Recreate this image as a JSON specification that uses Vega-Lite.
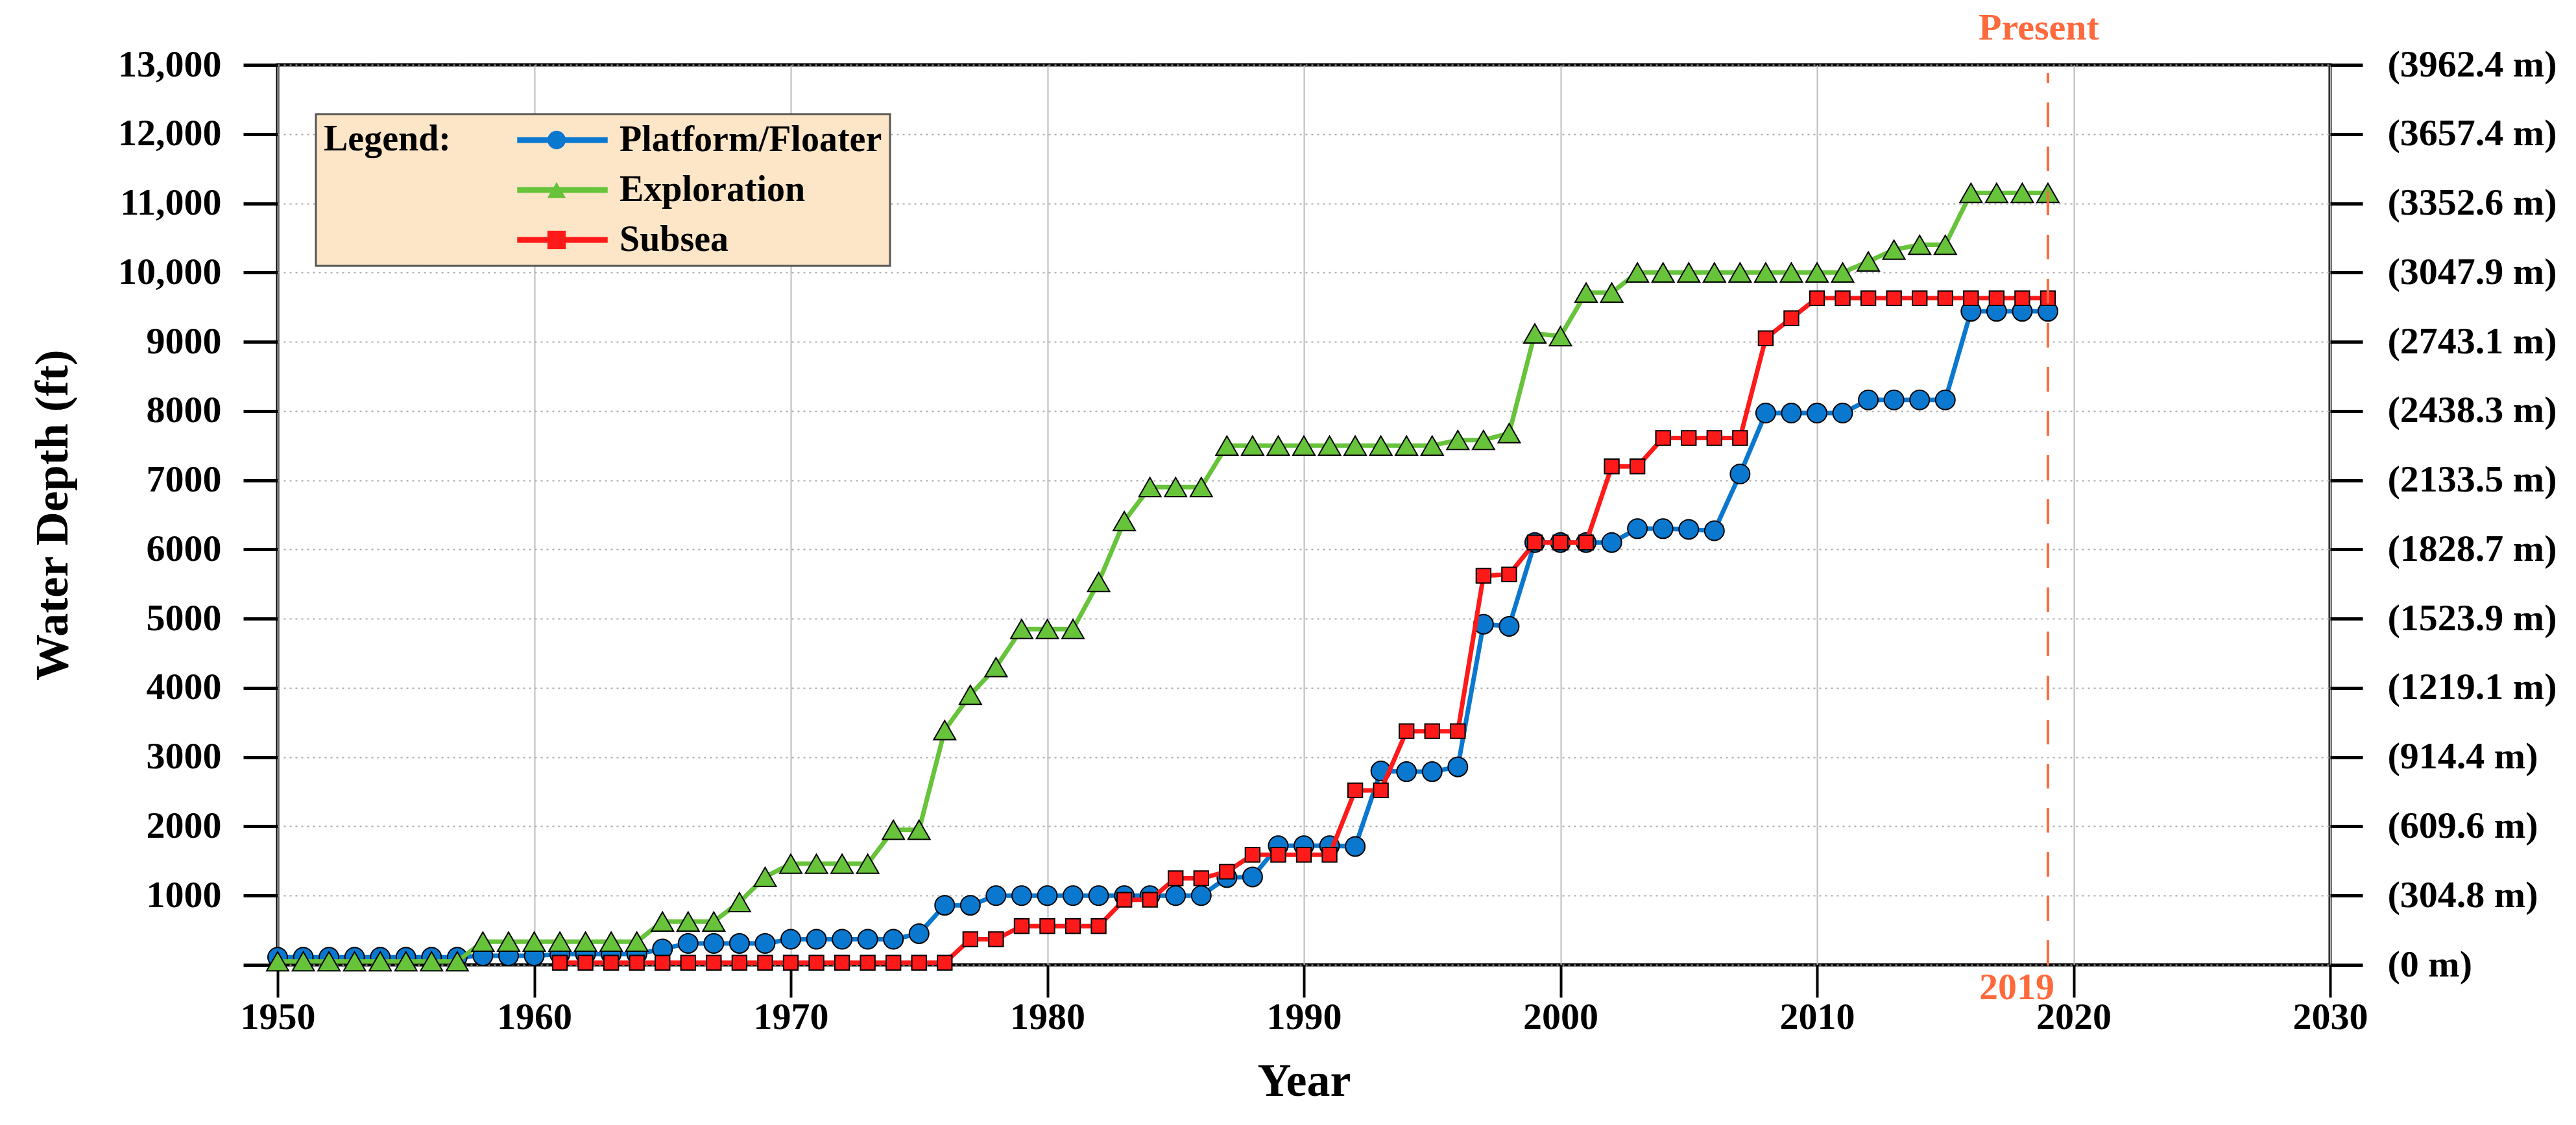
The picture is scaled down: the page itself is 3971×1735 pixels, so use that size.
{
  "$schema": "https://vega.github.io/schema/vega-lite/v6.json",
  "width": 3164,
  "height": 1388,
  "autosize": {"type": "none"},
  "padding": {"left": 428, "top": 100, "right": 379, "bottom": 247},
  "background": "white",
  "config": {
    "font": "Liberation Serif",
    "view": {"stroke": "black", "strokeWidth": 5},
    "axis": {
      "labelFont": "Liberation Serif", "labelFontSize": 58, "labelFontWeight": "bold", "labelColor": "black",
      "titleFont": "Liberation Serif", "titleFontSize": 72, "titleFontWeight": "bold", "titleColor": "black",
      "domain": false, "tickColor": "black", "tickWidth": 5, "tickSize": 52
    }
  },
  "data": {
    "values": [
      {"year":1950,"series":"Platform/Floater","depth":110},{"year":1951,"series":"Platform/Floater","depth":110},{"year":1952,"series":"Platform/Floater","depth":110},{"year":1953,"series":"Platform/Floater","depth":110},{"year":1954,"series":"Platform/Floater","depth":110},{"year":1955,"series":"Platform/Floater","depth":110},{"year":1956,"series":"Platform/Floater","depth":110},{"year":1957,"series":"Platform/Floater","depth":110},{"year":1958,"series":"Platform/Floater","depth":130},{"year":1959,"series":"Platform/Floater","depth":130},{"year":1960,"series":"Platform/Floater","depth":130},{"year":1961,"series":"Platform/Floater","depth":155},{"year":1962,"series":"Platform/Floater","depth":155},{"year":1963,"series":"Platform/Floater","depth":155},{"year":1964,"series":"Platform/Floater","depth":155},{"year":1965,"series":"Platform/Floater","depth":230},{"year":1966,"series":"Platform/Floater","depth":310},{"year":1967,"series":"Platform/Floater","depth":310},{"year":1968,"series":"Platform/Floater","depth":310},{"year":1969,"series":"Platform/Floater","depth":310},{"year":1970,"series":"Platform/Floater","depth":370},{"year":1971,"series":"Platform/Floater","depth":370},{"year":1972,"series":"Platform/Floater","depth":370},{"year":1973,"series":"Platform/Floater","depth":370},{"year":1974,"series":"Platform/Floater","depth":370},{"year":1975,"series":"Platform/Floater","depth":450},{"year":1976,"series":"Platform/Floater","depth":860},{"year":1977,"series":"Platform/Floater","depth":860},{"year":1978,"series":"Platform/Floater","depth":1000},{"year":1979,"series":"Platform/Floater","depth":1000},{"year":1980,"series":"Platform/Floater","depth":1000},{"year":1981,"series":"Platform/Floater","depth":1000},{"year":1982,"series":"Platform/Floater","depth":1000},{"year":1983,"series":"Platform/Floater","depth":1000},{"year":1984,"series":"Platform/Floater","depth":1000},{"year":1985,"series":"Platform/Floater","depth":1000},{"year":1986,"series":"Platform/Floater","depth":1000},{"year":1987,"series":"Platform/Floater","depth":1260},{"year":1988,"series":"Platform/Floater","depth":1270},{"year":1989,"series":"Platform/Floater","depth":1720},{"year":1990,"series":"Platform/Floater","depth":1720},{"year":1991,"series":"Platform/Floater","depth":1720},{"year":1992,"series":"Platform/Floater","depth":1710},{"year":1993,"series":"Platform/Floater","depth":2800},{"year":1994,"series":"Platform/Floater","depth":2790},{"year":1995,"series":"Platform/Floater","depth":2790},{"year":1996,"series":"Platform/Floater","depth":2860},{"year":1997,"series":"Platform/Floater","depth":4920},{"year":1998,"series":"Platform/Floater","depth":4890},{"year":1999,"series":"Platform/Floater","depth":6100},{"year":2000,"series":"Platform/Floater","depth":6100},{"year":2001,"series":"Platform/Floater","depth":6100},{"year":2002,"series":"Platform/Floater","depth":6100},{"year":2003,"series":"Platform/Floater","depth":6300},{"year":2004,"series":"Platform/Floater","depth":6300},{"year":2005,"series":"Platform/Floater","depth":6290},{"year":2006,"series":"Platform/Floater","depth":6270},{"year":2007,"series":"Platform/Floater","depth":7090},{"year":2008,"series":"Platform/Floater","depth":7970},{"year":2009,"series":"Platform/Floater","depth":7970},{"year":2010,"series":"Platform/Floater","depth":7970},{"year":2011,"series":"Platform/Floater","depth":7970},{"year":2012,"series":"Platform/Floater","depth":8160},{"year":2013,"series":"Platform/Floater","depth":8160},{"year":2014,"series":"Platform/Floater","depth":8160},{"year":2015,"series":"Platform/Floater","depth":8160},{"year":2016,"series":"Platform/Floater","depth":9440},{"year":2017,"series":"Platform/Floater","depth":9440},{"year":2018,"series":"Platform/Floater","depth":9440},{"year":2019,"series":"Platform/Floater","depth":9440},
      {"year":1950,"series":"Exploration","depth":50},{"year":1951,"series":"Exploration","depth":50},{"year":1952,"series":"Exploration","depth":50},{"year":1953,"series":"Exploration","depth":50},{"year":1954,"series":"Exploration","depth":50},{"year":1955,"series":"Exploration","depth":50},{"year":1956,"series":"Exploration","depth":50},{"year":1957,"series":"Exploration","depth":50},{"year":1958,"series":"Exploration","depth":335},{"year":1959,"series":"Exploration","depth":335},{"year":1960,"series":"Exploration","depth":335},{"year":1961,"series":"Exploration","depth":335},{"year":1962,"series":"Exploration","depth":335},{"year":1963,"series":"Exploration","depth":335},{"year":1964,"series":"Exploration","depth":335},{"year":1965,"series":"Exploration","depth":625},{"year":1966,"series":"Exploration","depth":625},{"year":1967,"series":"Exploration","depth":625},{"year":1968,"series":"Exploration","depth":905},{"year":1969,"series":"Exploration","depth":1270},{"year":1970,"series":"Exploration","depth":1460},{"year":1971,"series":"Exploration","depth":1460},{"year":1972,"series":"Exploration","depth":1460},{"year":1973,"series":"Exploration","depth":1460},{"year":1974,"series":"Exploration","depth":1950},{"year":1975,"series":"Exploration","depth":1950},{"year":1976,"series":"Exploration","depth":3390},{"year":1977,"series":"Exploration","depth":3900},{"year":1978,"series":"Exploration","depth":4300},{"year":1979,"series":"Exploration","depth":4850},{"year":1980,"series":"Exploration","depth":4850},{"year":1981,"series":"Exploration","depth":4850},{"year":1982,"series":"Exploration","depth":5530},{"year":1983,"series":"Exploration","depth":6410},{"year":1984,"series":"Exploration","depth":6900},{"year":1985,"series":"Exploration","depth":6900},{"year":1986,"series":"Exploration","depth":6900},{"year":1987,"series":"Exploration","depth":7500},{"year":1988,"series":"Exploration","depth":7500},{"year":1989,"series":"Exploration","depth":7500},{"year":1990,"series":"Exploration","depth":7500},{"year":1991,"series":"Exploration","depth":7500},{"year":1992,"series":"Exploration","depth":7500},{"year":1993,"series":"Exploration","depth":7500},{"year":1994,"series":"Exploration","depth":7500},{"year":1995,"series":"Exploration","depth":7500},{"year":1996,"series":"Exploration","depth":7580},{"year":1997,"series":"Exploration","depth":7580},{"year":1998,"series":"Exploration","depth":7680},{"year":1999,"series":"Exploration","depth":9120},{"year":2000,"series":"Exploration","depth":9080},{"year":2001,"series":"Exploration","depth":9710},{"year":2002,"series":"Exploration","depth":9710},{"year":2003,"series":"Exploration","depth":10000},{"year":2004,"series":"Exploration","depth":10000},{"year":2005,"series":"Exploration","depth":10000},{"year":2006,"series":"Exploration","depth":10000},{"year":2007,"series":"Exploration","depth":10000},{"year":2008,"series":"Exploration","depth":10000},{"year":2009,"series":"Exploration","depth":10000},{"year":2010,"series":"Exploration","depth":10000},{"year":2011,"series":"Exploration","depth":10000},{"year":2012,"series":"Exploration","depth":10160},{"year":2013,"series":"Exploration","depth":10330},{"year":2014,"series":"Exploration","depth":10400},{"year":2015,"series":"Exploration","depth":10400},{"year":2016,"series":"Exploration","depth":11150},{"year":2017,"series":"Exploration","depth":11150},{"year":2018,"series":"Exploration","depth":11150},{"year":2019,"series":"Exploration","depth":11150},
      {"year":1961,"series":"Subsea","depth":30},{"year":1962,"series":"Subsea","depth":30},{"year":1963,"series":"Subsea","depth":30},{"year":1964,"series":"Subsea","depth":30},{"year":1965,"series":"Subsea","depth":30},{"year":1966,"series":"Subsea","depth":30},{"year":1967,"series":"Subsea","depth":30},{"year":1968,"series":"Subsea","depth":30},{"year":1969,"series":"Subsea","depth":30},{"year":1970,"series":"Subsea","depth":30},{"year":1971,"series":"Subsea","depth":30},{"year":1972,"series":"Subsea","depth":30},{"year":1973,"series":"Subsea","depth":30},{"year":1974,"series":"Subsea","depth":30},{"year":1975,"series":"Subsea","depth":30},{"year":1976,"series":"Subsea","depth":30},{"year":1977,"series":"Subsea","depth":370},{"year":1978,"series":"Subsea","depth":370},{"year":1979,"series":"Subsea","depth":560},{"year":1980,"series":"Subsea","depth":560},{"year":1981,"series":"Subsea","depth":560},{"year":1982,"series":"Subsea","depth":560},{"year":1983,"series":"Subsea","depth":940},{"year":1984,"series":"Subsea","depth":940},{"year":1985,"series":"Subsea","depth":1250},{"year":1986,"series":"Subsea","depth":1250},{"year":1987,"series":"Subsea","depth":1345},{"year":1988,"series":"Subsea","depth":1590},{"year":1989,"series":"Subsea","depth":1590},{"year":1990,"series":"Subsea","depth":1590},{"year":1991,"series":"Subsea","depth":1590},{"year":1992,"series":"Subsea","depth":2520},{"year":1993,"series":"Subsea","depth":2520},{"year":1994,"series":"Subsea","depth":3375},{"year":1995,"series":"Subsea","depth":3375},{"year":1996,"series":"Subsea","depth":3375},{"year":1997,"series":"Subsea","depth":5620},{"year":1998,"series":"Subsea","depth":5640},{"year":1999,"series":"Subsea","depth":6100},{"year":2000,"series":"Subsea","depth":6100},{"year":2001,"series":"Subsea","depth":6100},{"year":2002,"series":"Subsea","depth":7200},{"year":2003,"series":"Subsea","depth":7200},{"year":2004,"series":"Subsea","depth":7610},{"year":2005,"series":"Subsea","depth":7610},{"year":2006,"series":"Subsea","depth":7610},{"year":2007,"series":"Subsea","depth":7610},{"year":2008,"series":"Subsea","depth":9050},{"year":2009,"series":"Subsea","depth":9340},{"year":2010,"series":"Subsea","depth":9630},{"year":2011,"series":"Subsea","depth":9630},{"year":2012,"series":"Subsea","depth":9630},{"year":2013,"series":"Subsea","depth":9630},{"year":2014,"series":"Subsea","depth":9630},{"year":2015,"series":"Subsea","depth":9630},{"year":2016,"series":"Subsea","depth":9630},{"year":2017,"series":"Subsea","depth":9630},{"year":2018,"series":"Subsea","depth":9630},{"year":2019,"series":"Subsea","depth":9630}
    ]
  },
  "layer": [
    {
      "layer": [
        {
          "transform": [{"filter": "datum.series === 'Platform/Floater'"}],
          "mark": {"type": "line", "strokeWidth": 7},
          "encoding": {
            "x": {"field": "year", "type": "quantitative", "scale": {"domain": [1950, 2030], "nice": false, "zero": false},
              "axis": {"values": [1950,1960,1970,1980,1990,2000,2010,2020,2030], "format": "d", "title": "Year", "grid": true, "gridColor": "#BBBBBB", "gridWidth": 2, "tickSize": 50, "tickWidth": 4, "labelPadding": 2, "titlePadding": 34, "labelFlush": false}},
            "y": {"field": "depth", "type": "quantitative", "scale": {"domain": [0, 13000], "nice": false},
              "axis": {"values": [0,1000,2000,3000,4000,5000,6000,7000,8000,9000,10000,11000,12000,13000], "labelExpr": "datum.value == 0 ? '' : (datum.value >= 10000 ? format(datum.value, ',') : format(datum.value, 'd'))", "title": "Water Depth (ft)", "grid": true, "gridDash": [3, 6], "gridColor": "#AAAAAA", "gridWidth": 2, "tickSize": 53, "tickWidth": 5, "labelPadding": 34, "titlePadding": 110}},
            "stroke": {"field": "series", "type": "nominal",
              "scale": {"domain": ["Platform/Floater", "Exploration", "Subsea"], "range": ["#0B78CF", "#66C33A", "#FF1A1A"]},
              "legend": {"orient": "none", "legendX": 59, "legendY": 76, "title": "Legend:", "titleOrient": "left", "titleAnchor": "start", "titleLimit": 0, "titleFont": "Liberation Serif", "titleFontSize": 56, "titleFontWeight": "bold", "titleColor": "black", "titlePadding": 144, "padding": 12, "fillColor": "#FDE6C8", "strokeColor": "#555555", "symbolType": "M-4.5,0L4.5,0", "symbolSize": 961, "symbolStrokeWidth": 9, "labelFont": "Liberation Serif", "labelFontSize": 56, "labelFontWeight": "bold", "labelColor": "black", "labelOffset": 60, "rowPadding": 21, "labelLimit": 0,
                "encode": {"legend": {"update": {"strokeWidth": {"value": 3}}}}}}
          }
        },
        {
          "transform": [{"filter": "datum.series === 'Platform/Floater'"}],
          "mark": {"type": "point", "filled": true, "size": 900, "stroke": "black", "strokeWidth": 2, "opacity": 1},
          "encoding": {
            "x": {"field": "year", "type": "quantitative"},
            "y": {"field": "depth", "type": "quantitative"},
            "fill": {"field": "series", "type": "nominal",
              "scale": {"domain": ["Exploration", "Platform/Floater", "Subsea"], "range": ["#66C33A", "#0B78CF", "#FF1A1A"]},
              "legend": {"orient": "none", "legendX": 390, "legendY": 76, "title": null, "padding": 12, "values": ["Platform/Floater", "Exploration", "Subsea"], "symbolSize": 800, "symbolStrokeColor": "black", "symbolStrokeWidth": 2, "symbolOpacity": 1, "labelFont": "Liberation Serif", "labelFontSize": 56, "labelFontWeight": "bold", "labelOpacity": 0, "labelExpr": "' '", "labelOffset": 60, "rowPadding": 21, "labelLimit": 0}},
            "shape": {"field": "series", "type": "nominal",
              "scale": {"domain": ["Exploration", "Platform/Floater", "Subsea"], "range": ["triangle-up", "circle", "square"]},
              "legend": {"orient": "none", "legendX": 390, "legendY": 76, "title": null, "padding": 12, "values": ["Platform/Floater", "Exploration", "Subsea"], "symbolSize": 800, "symbolStrokeColor": "black", "symbolStrokeWidth": 2, "symbolOpacity": 1, "labelFont": "Liberation Serif", "labelFontSize": 56, "labelFontWeight": "bold", "labelOpacity": 0, "labelExpr": "' '", "labelOffset": 60, "rowPadding": 21, "labelLimit": 0}}
          }
        },
        {
          "transform": [{"filter": "datum.series === 'Exploration'"}],
          "mark": {"type": "line", "strokeWidth": 7},
          "encoding": {
            "x": {"field": "year", "type": "quantitative"},
            "y": {"field": "depth", "type": "quantitative"},
            "stroke": {"field": "series", "type": "nominal"}
          }
        },
        {
          "transform": [{"filter": "datum.series === 'Exploration'"}],
          "mark": {"type": "point", "filled": true, "size": 1150, "stroke": "black", "strokeWidth": 2, "opacity": 1},
          "encoding": {
            "x": {"field": "year", "type": "quantitative"},
            "y": {"field": "depth", "type": "quantitative"},
            "fill": {"field": "series", "type": "nominal"},
            "shape": {"field": "series", "type": "nominal"}
          }
        },
        {
          "transform": [{"filter": "datum.series === 'Subsea'"}],
          "mark": {"type": "line", "strokeWidth": 7},
          "encoding": {
            "x": {"field": "year", "type": "quantitative"},
            "y": {"field": "depth", "type": "quantitative"},
            "stroke": {"field": "series", "type": "nominal"}
          }
        },
        {
          "transform": [{"filter": "datum.series === 'Subsea'"}],
          "mark": {"type": "point", "filled": true, "size": 500, "stroke": "black", "strokeWidth": 2, "opacity": 1},
          "encoding": {
            "x": {"field": "year", "type": "quantitative"},
            "y": {"field": "depth", "type": "quantitative"},
            "fill": {"field": "series", "type": "nominal"},
            "shape": {"field": "series", "type": "nominal"}
          }
        },
        {
          "data": {"values": [{"year": 2019, "label": "Present"}]},
          "mark": {"type": "text", "font": "Liberation Serif", "fontSize": 58, "fontWeight": "bold", "color": "#FF6A3D", "align": "center", "baseline": "alphabetic", "dx": -14},
          "encoding": {
            "x": {"field": "year", "type": "quantitative"},
            "y": {"datum": 13365, "type": "quantitative"},
            "text": {"field": "label", "type": "nominal"}
          }
        },
        {
          "data": {"values": [{"year": 2019, "label": "Present"}]},
          "mark": {"type": "text", "font": "Liberation Serif", "fontSize": 58, "fontWeight": "bold", "color": "#FF6A3D", "align": "right", "baseline": "alphabetic", "dx": 10},
          "encoding": {
            "x": {"field": "year", "type": "quantitative"},
            "y": {"datum": -496, "type": "quantitative"},
            "text": {"field": "year", "type": "quantitative", "format": "d"}
          }
        }
      ]
    },
    {
      "data": {"values": [{"year": 2019, "label": "Present"}]},
      "mark": {"type": "rule", "color": "#FF6A3D", "strokeWidth": 4, "strokeDash": [38, 30]},
      "encoding": {
        "x": {"field": "year", "type": "quantitative"},
        "y": {"datum": 0, "type": "quantitative", "scale": {"domain": [0, 13000], "nice": false},
          "axis": {"orient": "right", "values": [0,1000,2000,3000,4000,5000,6000,7000,8000,9000,10000,11000,12000,13000], "labelExpr": "['(0 m)','(304.8 m)','(609.6 m)','(914.4 m)','(1219.1 m)','(1523.9 m)','(1828.7 m)','(2133.5 m)','(2438.3 m)','(2743.1 m)','(3047.9 m)','(3352.6 m)','(3657.4 m)','(3962.4 m)'][round(datum.value / 1000)]", "title": null, "grid": false, "tickSize": 50, "tickWidth": 5, "labelPadding": 38, "labelLimit": 0}},
        "y2": {"datum": 12880}
      }
    }
  ],
  "resolve": {"scale": {"y": "independent"}}
}
